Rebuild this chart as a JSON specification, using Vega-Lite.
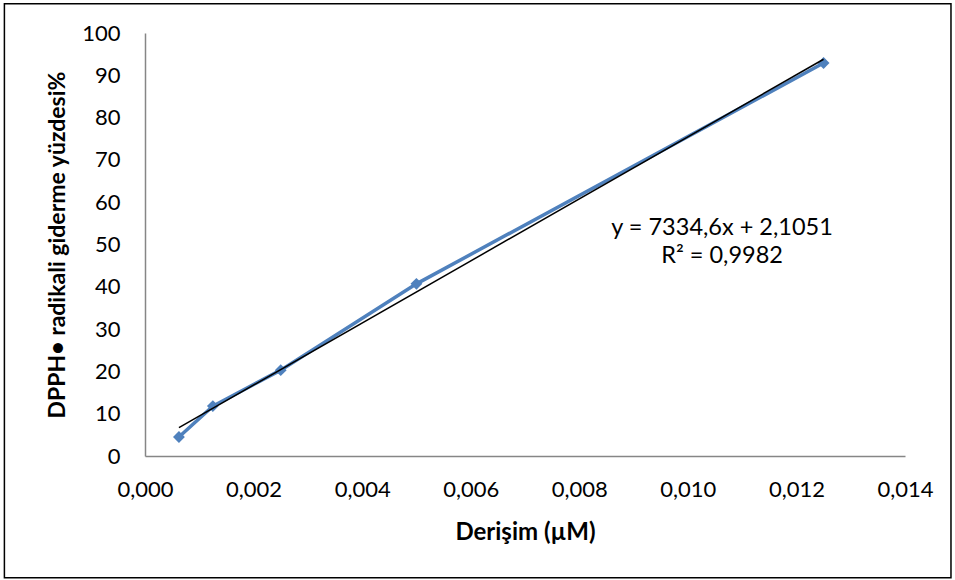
{
  "$schema": "https://vega.github.io/schema/vega-lite/v6.json",
  "width": 760,
  "height": 423,
  "autosize": {"type": "none"},
  "padding": {"left": 145, "top": 33, "right": 50, "bottom": 124},
  "config": {
    "locale": {"number": {"decimal": ",", "thousands": ".", "grouping": [3], "currency": ["", ""]}},
    "view": {"stroke": null},
    "font": "Lato",
    "axis": {
      "grid": false,
      "ticks": false,
      "domainColor": "#868686",
      "domainWidth": 1.5,
      "labelFont": "Lato",
      "labelFontSize": 22,
      "labelColor": "#000000",
      "titleFont": "Lato",
      "titleFontSize": 24,
      "titleFontWeight": "bold",
      "titleColor": "#000000"
    }
  },
  "datasets": {
    "series": [
      {"c": 0.000625, "p": 4.5},
      {"c": 0.00125, "p": 11.8},
      {"c": 0.0025, "p": 20.3},
      {"c": 0.005, "p": 40.7},
      {"c": 0.0125, "p": 92.9}
    ],
    "trend": [
      {"c": 0.000625, "p": 6.69},
      {"c": 0.0125, "p": 93.79}
    ],
    "labels": [
      {"c": 0.01063, "p": 54.0, "t": "y = 7334,6x + 2,1051"},
      {"c": 0.01063, "p": 47.3, "t": "R² = 0,9982"}
    ],
    "frame": [
      {"x1": -0.00259, "x2": 0.014847, "y1": -28.8, "y2": 106.9}
    ]
  },
  "layer": [
    {
      "data": {"name": "frame"},
      "mark": {"type": "rect", "fill": null, "stroke": "#000000", "strokeWidth": 1.5, "clip": false},
      "encoding": {
        "x": {"field": "x1", "type": "quantitative", "scale": {"domain": [0, 0.014], "nice": false, "zero": false}},
        "x2": {"field": "x2"},
        "y": {"field": "y1", "type": "quantitative", "scale": {"domain": [0, 100], "nice": false}},
        "y2": {"field": "y2"}
      }
    },
    {
      "data": {"name": "series"},
      "mark": {"type": "line", "color": "#4F81BD", "strokeWidth": 3.5, "point": {"shape": "diamond", "size": 140, "filled": true, "color": "#4F81BD"}},
      "encoding": {
        "x": {
          "field": "c", "type": "quantitative",
          "scale": {"domain": [0, 0.014], "nice": false, "zero": false},
          "axis": {"values": [0, 0.002, 0.004, 0.006, 0.008, 0.01, 0.012, 0.014], "format": ".3f", "title": "Derişim (µM)", "titleFontSize": 24, "labelPadding": 23, "titlePadding": 20, "labelFlush": false}
        },
        "y": {
          "field": "p", "type": "quantitative",
          "scale": {"domain": [0, 100], "nice": false},
          "axis": {"values": [0, 10, 20, 30, 40, 50, 60, 70, 80, 90, 100], "title": "DPPH• radikali giderme yüzdesi%", "titleFontSize": 23, "labelPadding": 25, "titlePadding": 12, "labelFlush": false}
        }
      }
    },
    {
      "data": {"name": "trend"},
      "mark": {"type": "line", "color": "#000000", "strokeWidth": 1.5},
      "encoding": {
        "x": {"field": "c", "type": "quantitative"},
        "y": {"field": "p", "type": "quantitative"}
      }
    },
    {
      "data": {"name": "labels"},
      "mark": {"type": "text", "fontSize": 23.5, "font": "Lato", "color": "#000000", "align": "center", "baseline": "middle"},
      "encoding": {
        "x": {"field": "c", "type": "quantitative"},
        "y": {"field": "p", "type": "quantitative"},
        "text": {"field": "t"}
      }
    }
  ]
}
